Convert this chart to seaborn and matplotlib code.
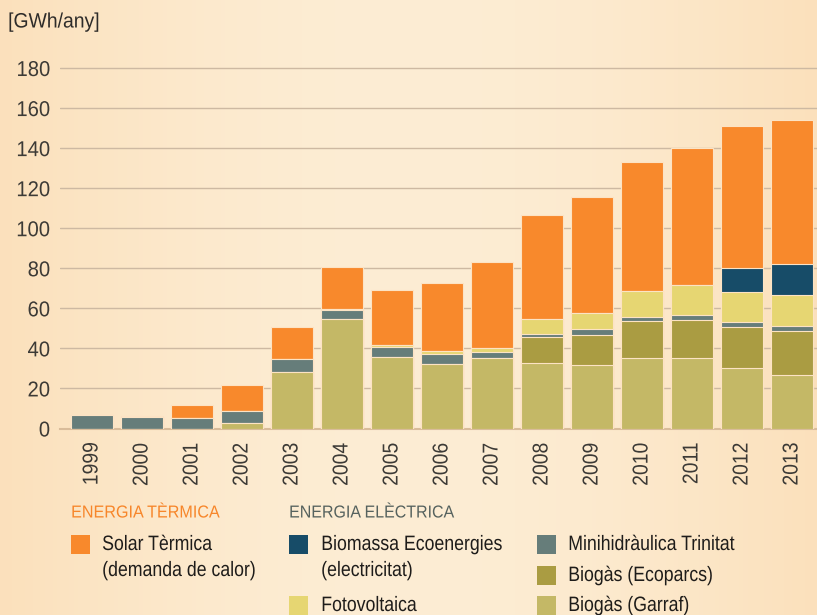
import numpy as np
import pandas as pd
import matplotlib
matplotlib.use("Agg")
import matplotlib.pyplot as plt
from matplotlib.patches import Rectangle
from matplotlib.patheffects import AbstractPathEffect
from matplotlib.transforms import Affine2D
import seaborn as sns

# Dades (GWh/any), llegides del gràfic
anys = ['1999', '2000', '2001', '2002', '2003', '2004', '2005', '2006',
        '2007', '2008', '2009', '2010', '2011', '2012', '2013']
biogas_garraf = [0, 0, 0, 2.8, 28.2, 54.6, 35.7, 32.4, 35.1, 32.6, 31.6, 35.1, 35.1, 30.3, 26.8]
biogas_ecoparcs = [0, 0, 0, 0, 0, 0, 0, 0, 0, 13.1, 15.3, 18.5, 19.3, 20.3, 22.0]
minihidraulica = [6.5, 5.7, 5.1, 6.1, 6.4, 4.8, 5.2, 5.0, 3.3, 1.5, 3.0, 2.3, 2.4, 2.6, 2.5]
fotovoltaica = [0, 0, 0, 0, 0, 0.5, 0.6, 1.5, 1.8, 7.5, 8.0, 12.9, 15.0, 15.2, 15.6]
biomassa = [0, 0, 0, 0, 0, 0, 0, 0, 0, 0, 0, 0, 0, 11.9, 15.4]
solar_termica = [0.3, 0.7, 6.5, 12.7, 16.3, 20.6, 27.5, 33.7, 42.9, 52.0, 57.7, 64.2, 68.2, 70.6, 71.6]

capes = ['Biogàs (Garraf)', 'Biogàs (Ecoparcs)', 'Minihidràulica Trinitat',
         'Fotovoltaica', 'Biomassa Ecoenergies', 'Solar Tèrmica']
colors = {
    'Biogàs (Garraf)': '#C4B866',
    'Biogàs (Ecoparcs)': '#AA9C42',
    'Minihidràulica Trinitat': '#667D7A',
    'Fotovoltaica': '#E6D672',
    'Biomassa Ecoenergies': '#174C68',
    'Solar Tèrmica': '#F8892C',
}

df = pd.DataFrame({
    'any': anys,
    'Biogàs (Garraf)': biogas_garraf,
    'Biogàs (Ecoparcs)': biogas_ecoparcs,
    'Minihidràulica Trinitat': minihidraulica,
    'Fotovoltaica': fotovoltaica,
    'Biomassa Ecoenergies': biomassa,
    'Solar Tèrmica': solar_termica,
})
# sumes acumulades per apilar
acum = df[capes].cumsum(axis=1)
acum['any'] = df['any']


class Condensa(AbstractPathEffect):
    """Estreny el text en horitzontal (no hi ha cap font 'narrow' instal·lada)"""

    def __init__(self, sx=0.85, anchor='left'):
        super().__init__()
        self.sx = sx
        self.anchor = anchor

    def draw_path(self, renderer, gc, tpath, affine, rgbFace=None):
        ext = tpath.get_extents()
        x0 = ext.x0 if self.anchor == 'left' else ext.x1
        t = Affine2D().translate(-x0, 0).scale(self.sx, 1).translate(x0, 0) + affine
        renderer.draw_path(gc, tpath, t, rgbFace)


fuente = ['Liberation Sans', 'DejaVu Sans']
sns.set_style("white")
plt.rcParams['font.family'] = fuente

fons = '#FBE2BE'
fig = plt.figure(figsize=(8.17, 6.15), dpi=100, facecolor=fons)

# fons amb una mica de degradat
bg = fig.add_axes([0, 0, 1, 1], zorder=-10)
gx = np.linspace(0, 1, 200)
grad = 0.5 + 0.5 * np.sin(gx * np.pi)
img = np.zeros((1, 200, 3))
c1 = np.array([249, 212, 164]) / 255
c2 = np.array([253, 237, 212]) / 255
img[0] = c1 + (c2 - c1) * grad[:, None]
bg.imshow(img, aspect='auto', extent=[0, 1, 0, 1])
bg.axis('off')

ax = fig.add_axes([60 / 817, (615 - 428.5) / 615, 757 / 817, 366.5 / 615])
ax.set_facecolor('none')

# capes de dalt a baix (la suma total primer)
for capa in reversed(capes):
    sns.barplot(data=acum, x='any', y=capa, color=colors[capa], order=anys,
                width=0.84, saturation=1, edgecolor='#FCE3C4', linewidth=0.8,
                ax=ax, zorder=3)

ax.set_xlim(-0.64, 14.5)
ax.set_ylim(0, 183)
ax.set_yticks(range(0, 181, 20))
ax.yaxis.grid(True, color='#CDB9A2', linewidth=1)
ax.set_axisbelow(True)
for s in ['top', 'right', 'left']:
    ax.spines[s].set_visible(False)
ax.spines['bottom'].set_color('#D9BC9A')
ax.spines['bottom'].set_linewidth(1.5)
ax.set_xlabel('')
ax.set_ylabel('')
ax.tick_params(axis='y', length=0, pad=7, labelsize=15.5, labelcolor='#3C3A36')
ax.tick_params(axis='x', length=0, pad=10, labelsize=15.5, labelcolor='#3C3A36',
               rotation=90)
for lab in ax.get_xticklabels():
    lab.set_path_effects([Condensa(0.9, 'right')])
for lab in ax.get_yticklabels():
    lab.set_path_effects([Condensa(0.94, 'right')])

fig.text(8 / 817, 1 - 22 / 615, '[GWh/any]', fontsize=15, color='#2E2C2A',
         va='center', ha='left', path_effects=[Condensa(0.93)])

# llegenda manual
def quadre(x, y):
    return (x / 817, 1 - (y + 19) / 615)

fig.text(71 / 817, 1 - 513 / 615, 'ENERGIA TÈRMICA', fontsize=12.5,
         color='#F7862A', va='center', path_effects=[Condensa(0.93)])
fig.text(289 / 817, 1 - 513 / 615, 'ENERGIA ELÈCTRICA', fontsize=12.5,
         color='#56625E', va='center', path_effects=[Condensa(0.92)])

entrades = [
    ('Solar Tèrmica', 71, 535, 102, ['Solar Tèrmica', '(demanda de calor)']),
    ('Biomassa Ecoenergies', 289, 535, 321, ['Biomassa Ecoenergies', '(electricitat)']),
    ('Fotovoltaica', 289, 596, 321, ['Fotovoltaica']),
    ('Minihidràulica Trinitat', 537, 535, 568, ['Minihidràulica Trinitat']),
    ('Biogàs (Ecoparcs)', 537, 566, 568, ['Biogàs (Ecoparcs)']),
    ('Biogàs (Garraf)', 537, 596, 568, ['Biogàs (Garraf)']),
]
for capa, qx, qy, tx, linies in entrades:
    fig.patches.append(Rectangle(quadre(qx, qy), 19 / 817, 19 / 615,
                                 transform=fig.transFigure,
                                 facecolor=colors[capa], edgecolor='none'))
    for i, t in enumerate(linies):
        fig.text(tx / 817, 1 - (qy + 9.5 + i * 26) / 615, t, fontsize=15,
                 color='#1E1C1A', va='center', ha='left',
                 path_effects=[Condensa(0.85)])

fig.savefig('out.png', dpi=100, facecolor=fons)
